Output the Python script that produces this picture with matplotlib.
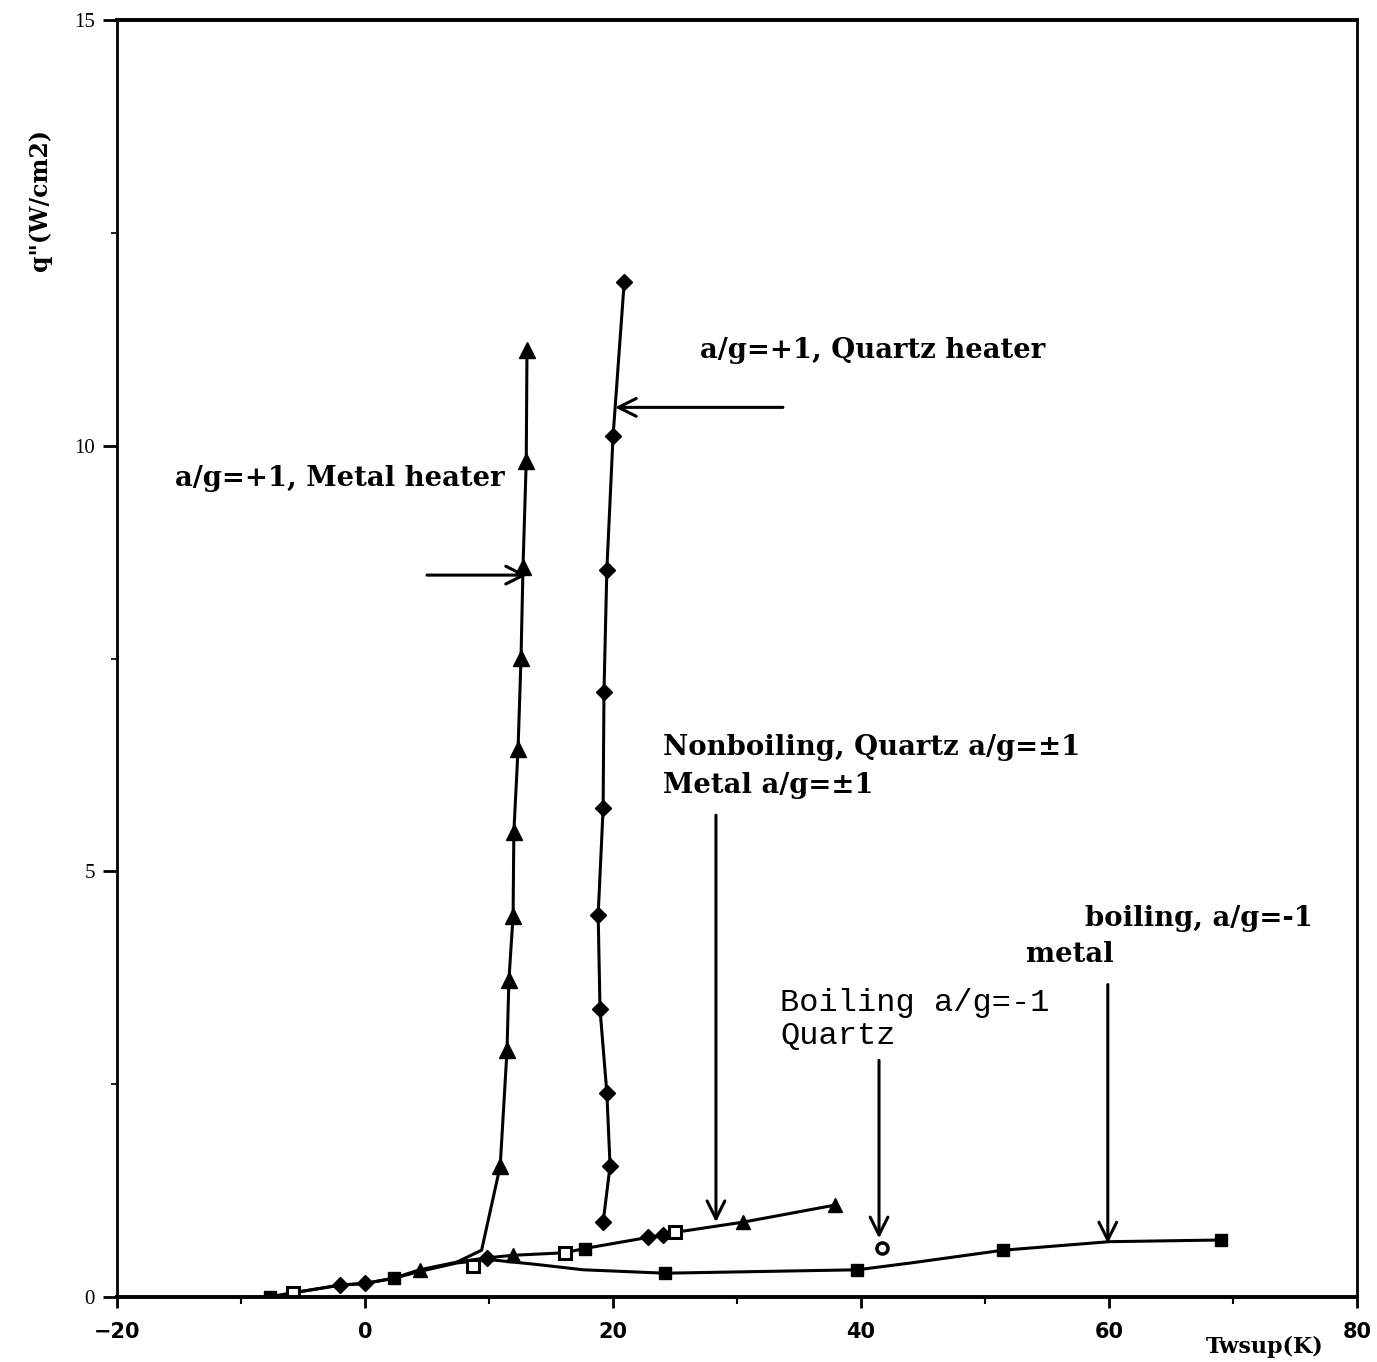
import numpy as np
import matplotlib.pyplot as plt
from matplotlib.ticker import MultipleLocator

# data: Twsup (K) vs q'' (W/cm2)

# a/g=+1, metal heater (triangles)
metal_x = [7.4, 9.4, 10.9, 11.45, 11.6, 11.94, 12.0, 12.34, 12.58, 12.74, 13.0, 13.06]
metal_y = [0.41, 0.55, 1.54, 2.90, 3.72, 4.48, 5.46, 6.44, 7.51, 8.58, 9.82, 11.12]

# a/g=+1, quartz heater (diamonds)
quartz_x = [19.2, 19.76, 19.5, 18.95, 18.8, 19.2, 19.27, 19.5, 20.0, 20.9]
quartz_y = [0.88, 1.54, 2.40, 3.38, 4.49, 5.74, 7.11, 8.54, 10.11, 11.92]

# nonboiling, quartz and metal a/g=+-1
nonboil_x = [-7.7, -5.8, -2.0, 0.0, 2.3, 4.4, 7.4, 9.8, 11.9, 16.1, 17.7, 22.8, 24.0, 25.0, 30.5, 37.9]
nonboil_y = [0.0, 0.05, 0.14, 0.16, 0.22, 0.32, 0.41, 0.46, 0.49, 0.52, 0.57, 0.70, 0.73, 0.76, 0.88, 1.08]

# boiling a/g=-1, metal (filled squares)
boilm_x = [-7.7, -5.8, -2.0, 0.0, 2.3, 4.4, 7.4, 10.0, 14.0, 17.6, 24.2, 39.7, 44.0, 51.45, 60.0, 69.0]
boilm_y = [0.0, 0.05, 0.14, 0.16, 0.22, 0.30, 0.40, 0.44, 0.38, 0.32, 0.28, 0.32, 0.40, 0.55, 0.65, 0.67]

# boiling a/g=-1, quartz (single open circle)
boilq_x = [41.7]
boilq_y = [0.58]

# extra markers sitting on the shared low-flux curves
sq_fill_x = [-7.7, 2.3, 17.7, 24.2, 39.7, 51.45, 69.0]
sq_fill_y = [0.0, 0.22, 0.57, 0.28, 0.32, 0.55, 0.67]
sq_open_x = [-5.8, 8.7, 16.1, 25.0]
sq_open_y = [0.05, 0.37, 0.52, 0.76]
dia_x = [-2.0, 0.0, 9.8, 22.8, 24.0]
dia_y = [0.14, 0.16, 0.46, 0.70, 0.73]
tri_x = [4.4, 11.9, 30.5, 37.9]
tri_y = [0.32, 0.49, 0.88, 1.08]

xticks = [-20, 0, 20, 40, 60, 80]
yticks = [0, 5, 10, 15]

fig = plt.figure(figsize=(13.77, 13.62), dpi=100)
ax = fig.add_axes([0.085, 0.0477, 0.9005, 0.9376])

lw = 2.2
k = 'black'
ax.plot(nonboil_x, nonboil_y, color=k, lw=lw)
ax.plot(boilm_x, boilm_y, color=k, lw=lw)
ax.plot(metal_x, metal_y, color=k, lw=lw)
ax.plot(quartz_x, quartz_y, color=k, lw=lw)

ax.plot(metal_x[2:], metal_y[2:], ls='none', marker='^', ms=11, color=k)
ax.plot(quartz_x, quartz_y, ls='none', marker='D', ms=8, color=k)
ax.plot(tri_x, tri_y, ls='none', marker='^', ms=10, color=k)
ax.plot(dia_x, dia_y, ls='none', marker='D', ms=8, color=k)
ax.plot(sq_fill_x, sq_fill_y, ls='none', marker='s', ms=9, color=k)
ax.plot(sq_open_x, sq_open_y, ls='none', marker='s', ms=8, mfc='white', mec=k, mew=2.2)
ax.plot(boilq_x, boilq_y, ls='none', marker='o', ms=8, mfc='white', mec=k, mew=2.5)

ax.set_xlim(-20, 80)
ax.set_ylim(0, 15)
ax.set_xticks(xticks)
ax.set_yticks(yticks)
ax.xaxis.set_minor_locator(MultipleLocator(10))
ax.yaxis.set_minor_locator(MultipleLocator(2.5))
ax.tick_params(axis='x', which='major', direction='out', length=8, width=2, labelsize=15, pad=10)
ax.tick_params(axis='x', which='minor', direction='out', length=5, width=1.5)
ax.tick_params(axis='y', which='major', direction='out', length=10, width=2, labelsize=15, pad=6)
ax.tick_params(axis='y', which='minor', direction='out', length=4, width=1.2)
for lab in ax.get_xticklabels():
    lab.set_fontweight('bold')
for lab in ax.get_yticklabels():
    lab.set_family('Liberation Serif')
for side in ['top', 'bottom']:
    ax.spines[side].set_linewidth(2.8)
for side in ['left', 'right']:
    ax.spines[side].set_linewidth(2.0)

bold = dict(family='DejaVu Serif', fontweight='bold', fontsize=19.8, color=k)
ax.text(27.0, 11.12, 'a/g=+1, Quartz heater', va='center', ha='left', **bold)
ax.text(-15.3, 9.62, 'a/g=+1, Metal heater', va='center', ha='left', **bold)
ax.text(24.0, 6.45, 'Nonboiling, Quartz a/g=\u00b11', va='center', ha='left', **bold)
ax.text(24.0, 6.01, 'Metal a/g=\u00b11', va='center', ha='left', **bold)
ax.text(76.4, 4.45, 'boiling, a/g=-1', va='center', ha='right', **bold)
ax.text(60.4, 4.02, 'metal', va='center', ha='right', **bold)
ax.text(33.47, 3.45, 'Boiling a/g=-1', va='center', ha='left',
        family='Liberation Mono', fontsize=23, color=k)
ax.text(33.47, 3.07, 'Quartz', va='center', ha='left',
        family='Liberation Mono', fontsize=23, color=k)

arrow = dict(arrowstyle='->', lw=2.2, color=k, mutation_scale=32, shrinkA=0, shrinkB=0)
ax.annotate('', xy=(20.16, 10.45), xytext=(33.7, 10.45), arrowprops=arrow)
ax.annotate('', xy=(13.06, 8.48), xytext=(5.0, 8.48), arrowprops=arrow)
ax.annotate('', xy=(28.3, 0.88), xytext=(28.3, 5.66), arrowprops=arrow)
ax.annotate('', xy=(59.9, 0.63), xytext=(59.9, 3.67), arrowprops=arrow)
ax.annotate('', xy=(41.45, 0.69), xytext=(41.45, 2.78), arrowprops=arrow)

fig.text(40 / 1377, 1 - 200 / 1362, 'q"(W/cm2)', rotation=90, va='center', ha='center',
         family='DejaVu Serif', fontweight='bold', fontsize=17)
fig.text(1265 / 1377, 1 - 1347 / 1362, 'Twsup(K)', va='center', ha='center',
         family='DejaVu Serif', fontweight='bold', fontsize=16)

fig.savefig('out.png', dpi=100)
